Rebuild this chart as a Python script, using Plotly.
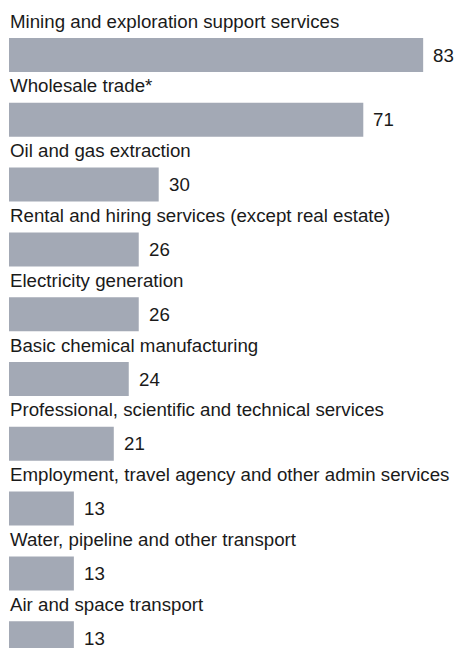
import plotly.graph_objects as go

categories = [
    "Mining and exploration support services",
    "Wholesale trade*",
    "Oil and gas extraction",
    "Rental and hiring services (except real estate)",
    "Electricity generation",
    "Basic chemical manufacturing",
    "Professional, scientific and technical services",
    "Employment, travel agency and other admin services",
    "Water, pipeline and other transport",
    "Air and space transport",
]
values = [83, 71, 30, 26, 26, 24, 21, 13, 13, 13]

BAR_COLOR = "#a3a9b5"
TEXT_COLOR = "#1a1a1a"
FONT = "Liberation Sans, Arial, Helvetica, sans-serif"
FONT_SIZE = 18.7

W, H = 455, 648
LEFT = 9
PX_PER_UNIT = 4.99
ROW_PX = 64.8
FIRST_CENTER = 55

fig = go.Figure(
    go.Bar(
        x=values,
        y=categories,
        orientation="h",
        marker=dict(color=BAR_COLOR, line=dict(width=0)),
        width=34 / ROW_PX,
        hoverinfo="skip",
    )
)

annotations = []
for cat, val in zip(categories, values):
    # category name sits above its bar
    annotations.append(dict(
        x=0, y=cat, xref="x", yref="y",
        text=cat, showarrow=False,
        xanchor="left", yanchor="middle",
        yshift=34, xshift=-1,
        font=dict(family=FONT, size=FONT_SIZE, color=TEXT_COLOR),
    ))
    # value to the right of the bar
    annotations.append(dict(
        x=val, y=cat, xref="x", yref="y",
        text=str(val), showarrow=False,
        xanchor="left", yanchor="middle",
        xshift=8,
        font=dict(family=FONT, size=FONT_SIZE, color=TEXT_COLOR),
    ))

top_val = -FIRST_CENTER / ROW_PX
bottom_val = top_val + H / ROW_PX

fig.update_layout(
    width=W, height=H,
    margin=dict(l=LEFT, r=0, t=0, b=0),
    paper_bgcolor="white", plot_bgcolor="white",
    showlegend=False,
    annotations=annotations,
    xaxis=dict(range=[0, (W - LEFT) / PX_PER_UNIT], visible=False, fixedrange=True),
    yaxis=dict(type="category", categoryorder="array", categoryarray=categories,
               range=[bottom_val, top_val], visible=False, fixedrange=True),
    font=dict(family=FONT, size=FONT_SIZE, color=TEXT_COLOR),
)

fig.write_html("out.html", config={"displayModeBar": False})
